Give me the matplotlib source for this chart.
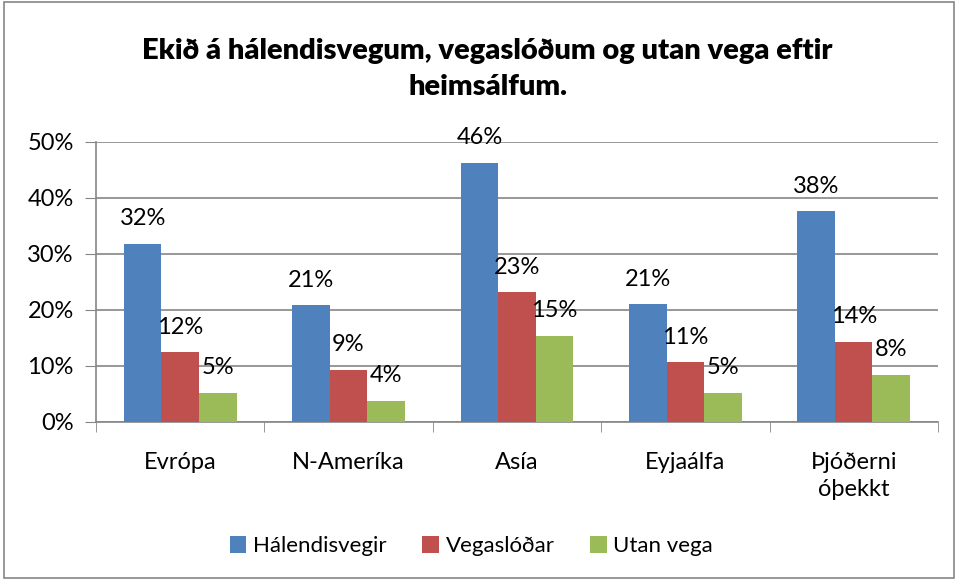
import matplotlib.pyplot as plt
import numpy as np
from matplotlib.patches import Rectangle

plt.rcParams['font.family'] = ['Lato', 'DejaVu Sans']

heimsalfur = ['Evrópa', 'N-Ameríka', 'Asía', 'Eyjaálfa', 'Þjóðerni\nóþekkt']
halendisvegir = [31.8, 20.8, 46.2, 21.0, 37.6]
vegaslodar = [12.4, 9.3, 23.1, 10.6, 14.3]
utan_vega = [5.2, 3.7, 15.3, 5.2, 8.4]
flokkar = ['Hálendisvegir', 'Vegaslóðar', 'Utan vega']
litir = ['#4F81BD', '#C0504D', '#9BBB59']

fig = plt.figure(figsize=(9.58, 5.8), dpi=100)
ax = fig.add_axes([0.1002, 0.273, 0.8788, 0.4827])

x = np.arange(len(heimsalfur))
b = 0.223
for i, (vals, nafn, litur) in enumerate(zip([halendisvegir, vegaslodar, utan_vega], flokkar, litir)):
    pos = x + (i - 1) * b
    ax.bar(pos, vals, width=b, color=litur, label=nafn, zorder=3)
    for p, v in zip(pos, vals):
        ax.annotate(f'{round(v):.0f}%', (p, v), xytext=(0, 18), textcoords='offset points',
                    ha='center', va='center', fontsize=17, zorder=4)

ax.set_xlim(-0.5, 4.5)
ax.set_ylim(0, 50)
ax.set_yticks(range(0, 51, 10))
ax.set_yticklabels([f'{t}%' for t in range(0, 51, 10)], fontsize=17)
ax.set_xticks(x)
ax.set_xticklabels(heimsalfur, fontsize=17, linespacing=1.35)
ax.set_xticks(np.arange(-0.5, 5, 1), minor=True)
ax.tick_params(axis='x', which='major', length=0, pad=22)
ax.tick_params(axis='x', which='minor', length=7, color='#868686')
ax.tick_params(axis='y', length=8, color='#868686', pad=8)
ax.grid(axis='y', color='#868686', linewidth=1.2, zorder=0)
for s in ['top', 'right']:
    ax.spines[s].set_visible(False)
for s in ['left', 'bottom']:
    ax.spines[s].set_color('#868686')
    ax.spines[s].set_linewidth(1.2)

fig.text(0.509, 0.881, 'Ekið á hálendisvegum, vegaslóðum og utan vega eftir\nheimsálfum.',
         ha='center', va='center', fontsize=21, fontweight='heavy', linespacing=1.45)

ax.legend(loc='center', bbox_to_anchor=(0.492, 0.058), bbox_transform=fig.transFigure, ncol=3,
          frameon=False, fontsize=16, handlelength=0.75, handleheight=0.75, handletextpad=0.3,
          columnspacing=1.6)

fig.patches.append(Rectangle((0.004, 0.004), 0.992, 0.992, transform=fig.transFigure,
                             fill=False, edgecolor='#868686', linewidth=1.2))

plt.savefig('out.png', dpi=100)
